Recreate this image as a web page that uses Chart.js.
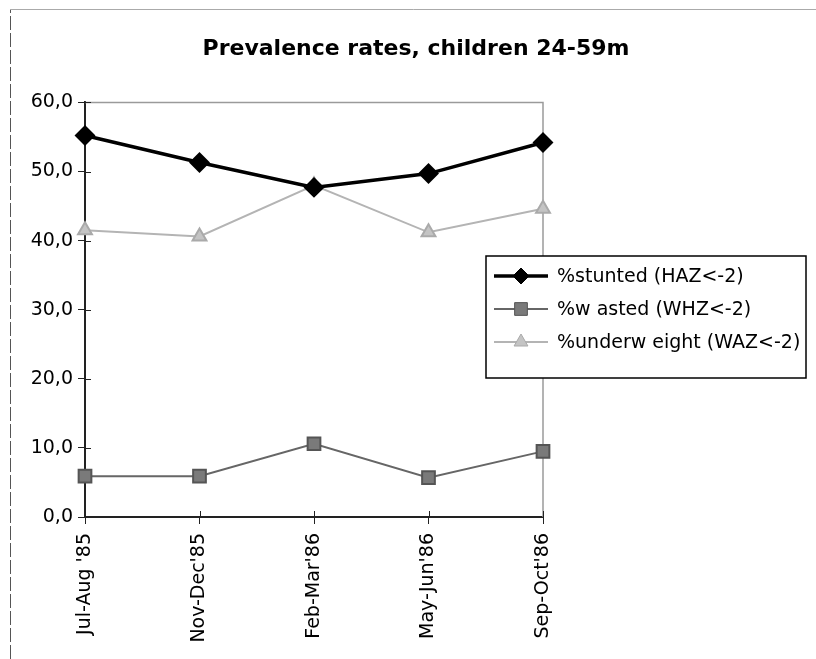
<!DOCTYPE html>
<html>
<head>
<meta charset="utf-8">
<script src="https://cdn.jsdelivr.net/npm/chart.js@4.4.1/dist/chart.umd.min.js"></script>
<style>
  html, body { margin: 0; padding: 0; background: #fff; }
  #wrap { width: 816px; height: 659px; }
</style>
</head>
<body>
<div id="wrap"><canvas id="prevChart" width="816" height="659"></canvas></div>
<script>
// periods (x axis)
const periods = ["Jul-Aug '85", "Nov-Dec'85", "Feb-Mar'86", "May-Jun'86", "Sep-Oct'86"];

// % of children 24-59m below -2 z-score
const stunted = [55.2, 51.3, 47.7, 49.7, 54.2];
const wasted = [5.9, 5.9, 10.6, 5.7, 9.5];
const underweight = [41.5, 40.6, 48.0, 41.2, 44.6];

const seriesNames = ['%stunted (HAZ<-2)', '%w asted (WHZ<-2)', '%underw eight (WAZ<-2)'];
const yTickLabels = ['0,0', '10,0', '20,0', '30,0', '40,0', '50,0', '60,0'];

const tickFont = { family: 'DejaVu Sans', size: 19 };

// frame round the picture + grey box round the plot
const framePlugin = {
    id: 'frame',
    beforeDatasetsDraw(chart) {
        const ctx = chart.ctx;
        const a = chart.chartArea;
        ctx.save();
        ctx.strokeStyle = '#9a9a9a';
        ctx.lineWidth = 1.5;
        ctx.beginPath();
        ctx.moveTo(a.left, a.top);
        ctx.lineTo(a.right, a.top);
        ctx.lineTo(a.right, a.bottom);
        ctx.stroke();
        // outer frame, left and top only
        ctx.strokeStyle = '#555';
        ctx.lineWidth = 1;
        ctx.setLineDash([14, 3]);
        ctx.beginPath();
        ctx.moveTo(10.5, 659);
        ctx.lineTo(10.5, 9.5);
        ctx.stroke();
        ctx.strokeStyle = '#aaa';
        ctx.setLineDash([]);
        ctx.beginPath();
        ctx.moveTo(10.5, 9.5);
        ctx.lineTo(816, 9.5);
        ctx.stroke();
        // inner half of the tick marks
        ctx.strokeStyle = '#222';
        ctx.lineWidth = 1;
        const ys = chart.scales.y;
        ys.ticks.forEach(t => {
            const py = Math.round(ys.getPixelForValue(t.value)) + 0.5;
            ctx.beginPath();
            ctx.moveTo(a.left, py);
            ctx.lineTo(a.left + 6, py);
            ctx.stroke();
        });
        const xs = chart.scales.x;
        periods.forEach((p, i) => {
            const px = Math.round(xs.getPixelForValue(i)) + 0.5;
            ctx.beginPath();
            ctx.moveTo(px, a.bottom);
            ctx.lineTo(px, a.bottom - 6);
            ctx.stroke();
        });
        ctx.restore();
    }
};

// legend box placed over the right part of the plot
const boxLegend = {
    id: 'boxLegend',
    afterDraw(chart) {
        const ctx = chart.ctx;
        const left = 486, top = 256, width = 320, height = 122;
        ctx.save();
        ctx.fillStyle = '#fff';
        ctx.fillRect(left, top, width, height);
        ctx.strokeStyle = '#000';
        ctx.lineWidth = 1.5;
        ctx.strokeRect(left, top, width, height);
        chart.data.datasets.forEach((ds, i) => {
            const cy = top + 20 + i * 33;
            ctx.strokeStyle = ds.borderColor;
            ctx.lineWidth = ds.borderWidth;
            ctx.beginPath();
            ctx.moveTo(left + 8, cy);
            ctx.lineTo(left + 62, cy);
            ctx.stroke();
            ctx.fillStyle = ds.pointBackgroundColor;
            ctx.strokeStyle = ds.pointBorderColor;
            ctx.lineWidth = 1;
            Chart.helpers.drawPoint(ctx, {
                pointStyle: ds.pointStyle,
                radius: ds.pointRadius,
                borderWidth: 1
            }, left + 35, cy);
            ctx.fillStyle = '#000';
            ctx.font = '19px "DejaVu Sans"';
            ctx.textBaseline = 'middle';
            ctx.fillText(ds.label, left + 71, cy + 1);
        });
        ctx.restore();
    }
};

const chart = new Chart(document.getElementById('prevChart'), {
    type: 'line',
    data: {
        labels: periods,
        datasets: [{
            label: seriesNames[0],
            data: stunted,
            borderColor: '#000',
            borderWidth: 3.5,
            pointStyle: 'rectRot',
            pointRadius: 8,
            pointBackgroundColor: '#000',
            pointBorderColor: '#000'
        }, {
            label: seriesNames[1],
            data: wasted,
            borderColor: '#666',
            borderWidth: 2,
            pointStyle: 'rect',
            pointRadius: 9,
            pointBackgroundColor: '#7a7a7a',
            pointBorderColor: '#555'
        }, {
            label: seriesNames[2],
            data: underweight,
            borderColor: '#b4b4b4',
            borderWidth: 2,
            pointStyle: 'triangle',
            pointRadius: 8,
            pointBackgroundColor: '#c4c4c4',
            pointBorderColor: '#aaa'
        }]
    },
    options: {
        responsive: false,
        animation: false,
        layout: { padding: { left: 18, right: 2, top: 36, bottom: 0 } },
        plugins: {
            legend: { display: false },
            tooltip: { enabled: false },
            title: {
                display: true,
                text: 'Prevalence rates, children 24-59m',
                color: '#000',
                font: { family: 'DejaVu Sans', size: 22, weight: 'bold', lineHeight: 1.2 },
                padding: { top: 0, bottom: 40 }
            }
        },
        scales: {
            x: {
                offset: false,
                grid: { display: true, drawOnChartArea: false, drawTicks: true, tickLength: 7, color: '#222' },
                border: { display: true, color: '#222', width: 2 },
                ticks: {
                    color: '#000',
                    font: tickFont,
                    minRotation: 90,
                    maxRotation: 90,
                    padding: 9,
                    autoSkip: false
                },
                afterFit(scale) { scale.height = 142; }
            },
            y: {
                min: 0,
                max: 60,
                grid: { display: true, drawOnChartArea: false, drawTicks: true, tickLength: 7, color: '#222' },
                border: { display: true, color: '#222', width: 2 },
                ticks: {
                    stepSize: 10,
                    color: '#000',
                    font: tickFont,
                    padding: 5,
                    callback: (v) => yTickLabels[Math.round(v / 10)]
                },
                afterFit(scale) { scale.width = 67; }
            },
            spacer: {
                position: 'right',
                display: true,
                grid: { display: false },
                border: { display: false },
                ticks: { display: false },
                afterFit(scale) { scale.width = 271; }
            }
        }
    },
    plugins: [framePlugin, boxLegend]
});
</script>
</body>
</html>
